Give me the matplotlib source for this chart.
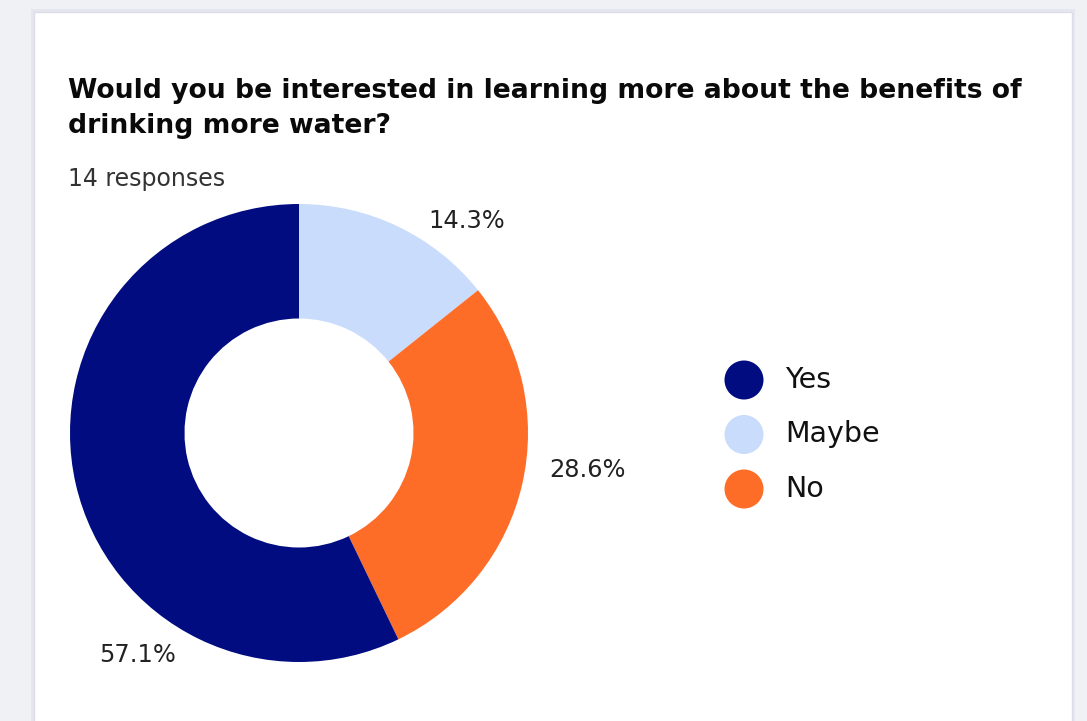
import matplotlib.pyplot as plt
from matplotlib.patches import Rectangle, Circle

# data
labels = ['Yes', 'Maybe', 'No']
counts = [8, 2, 4]
colors = ['#000c80', '#c9dcfc', '#fd6d28']
title_lines = ['Would you be interested in learning more about the benefits of',
               'drinking more water?']
subtitle = '14 responses'

W, H = 1087, 721
fig = plt.figure(figsize=(W / 100, H / 100), dpi=100)
fig.patch.set_facecolor('#f0f1f5')

# white card
bg = fig.add_axes([0, 0, 1, 1])
bg.set_xlim(0, W)
bg.set_ylim(H, 0)
bg.axis('off')
bg.add_patch(Rectangle((31, 9), 1044, 730, facecolor='#e6e7ee', edgecolor='none'))
bg.add_patch(Rectangle((34, 12), 1038, 730, facecolor='white', edgecolor='#dcdde8', linewidth=1))

for k, line in enumerate(title_lines):
    bg.text(68, 98 + k * 35, line, fontsize=19.2, fontweight='bold', color='#0a0a0a',
            va='baseline')
bg.text(68, 186, subtitle, fontsize=17, color='#333333', va='baseline')

# donut, clockwise from top: Maybe, No, Yes
order = [1, 2, 0]
cx, cy, r = 299, 433, 229
ax = fig.add_axes([(cx - r) / W, (H - cy - r) / H, 2 * r / W, 2 * r / H])
wedges, _ = ax.pie([counts[i] for i in order], colors=[colors[i] for i in order],
                   startangle=90, counterclock=False,
                   wedgeprops=dict(width=0.5, edgecolor='none'))
ax.set_xlim(-1, 1)
ax.set_ylim(-1, 1)
ax.set_aspect('equal')

total = sum(counts)
label_pos = {1: (0.734, 0.926), 2: (1.258, -0.162), 0: (-0.707, -0.969)}
for i in order:
    x, y = label_pos[i]
    ax.text(x, y, f'{counts[i] / total * 100:.1f}%', fontsize=17.4, color='#222222',
            ha='center', va='center', clip_on=False)

# legend
for k, lab in enumerate(labels):
    y = 380 + k * 54.5
    bg.add_patch(Circle((744, y), 19.5, facecolor=colors[k], edgecolor='none'))
    bg.text(785, y, lab, fontsize=20.5, color='#111111', va='center')

fig.savefig('out.png', dpi=100, facecolor=fig.get_facecolor())
